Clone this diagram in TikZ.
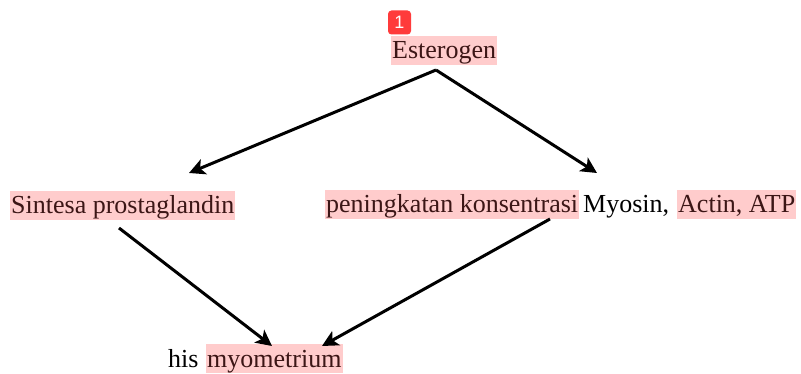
\documentclass[tikz,border=0pt]{standalone}
\usepackage{fontspec}
\setmainfont{Liberation Serif}
\usetikzlibrary{arrows.meta}
\definecolor{hl}{HTML}{FFCCCC}
\definecolor{hltext}{HTML}{3C1616}
\definecolor{badgered}{HTML}{FF3B3B}
\tikzset{
  lbl/.style={font=\fontsize{26}{31}\selectfont, inner xsep=1pt, inner ysep=1pt,
    text height=22pt, text depth=5pt, anchor=base west},
  hlbl/.style={lbl, fill=hl, text=hltext},
  conn/.style={line width=3pt, -{Stealth[length=16pt,width=16pt,inset=4pt]}},
  badge/.style={fill=badgered, rounded corners=3.5pt, text=white,
    font=\fontspec{Liberation Sans}\fontsize{18}{20}\selectfont,
    minimum width=23pt, minimum height=24pt, inner sep=0pt}
}
\begin{document}
\begin{tikzpicture}[x=1pt,y=-1pt]
\useasboundingbox[fill=white] (0,0) rectangle (801,374);

% texts
\node[hlbl] (est) at (391,59) {Esterogen};
\node[badge] (b1) at (399.5,22.5) {1};
\node[hlbl] (sin) at (10,214) {Sintesa prostaglandin};
\node[hlbl] (pen) at (325,213) {peningkatan konsentrasi};
\node[lbl] (myo) at (582,213) {Myosin,};
\node[hlbl] (act) at (677,213) {Actin, ATP};
\node[lbl] (his) at (167,367) {his};
\node[hlbl] (mym) at (206,367) {myometrium};

% connector end points
\coordinate (estb) at (436,70);
\coordinate (sint) at (189,173);
\coordinate (pent) at (597,173);
\coordinate (sinb) at (119,228);
\coordinate (penb) at (550,219);
\coordinate (myl) at (272,346);
\coordinate (myr) at (322,346);

\draw[conn] (estb) -- (sint);
\draw[conn] (estb) -- (pent);
\draw[conn] (sinb) -- (myl);
\draw[conn] (penb) -- (myr);
\end{tikzpicture}
\end{document}
